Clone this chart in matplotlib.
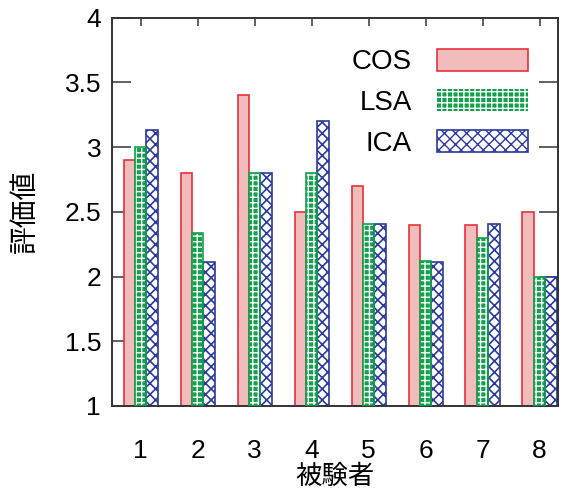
import numpy as np
import matplotlib
matplotlib.use("Agg")
import matplotlib.pyplot as plt
from matplotlib.patches import Patch

plt.rcParams['font.family'] = ['Liberation Sans', 'Noto Sans CJK JP', 'DejaVu Sans']

subjects = [1, 2, 3, 4, 5, 6, 7, 8]
cos_vals = [2.90, 2.80, 3.40, 2.50, 2.70, 2.40, 2.40, 2.50]
lsa_vals = [3.00, 2.34, 2.80, 2.80, 2.41, 2.12, 2.30, 2.00]
ica_vals = [3.13, 2.11, 2.80, 3.20, 2.41, 2.11, 2.41, 2.00]
yticks = [1, 1.5, 2, 2.5, 3, 3.5, 4]

fig = plt.figure(figsize=(5.64, 4.95), dpi=100)
ax = fig.add_axes([0.199, 0.180, 0.790, 0.784])

x = np.array(subjects, dtype=float)
w = 0.2
base = 1.0

ax.bar(x - w, np.array(cos_vals) - base, w, bottom=base, color='#f2bcbc',
       edgecolor='#e8303a', linewidth=1.2, zorder=2)

# LSA: green with white checker dots
with plt.rc_context({'hatch.linewidth': 1.0}):
    ax.bar(x, np.array(lsa_vals) - base, w, bottom=base, color='#12a04c',
           edgecolor='white', linewidth=0, hatch='+++', zorder=2)
    h_lsa = Patch(facecolor='#12a04c', edgecolor='white', hatch='+++', linewidth=0)
ax.bar(x, np.array(lsa_vals) - base, w, bottom=base, fill=False,
       edgecolor='#12a04c', linewidth=1.2, zorder=3)

with plt.rc_context({'hatch.linewidth': 1.2}):
    ax.bar(x + w, np.array(ica_vals) - base, w, bottom=base, color='white',
           edgecolor='#2b3a9c', linewidth=1.2, hatch='xxx', zorder=2)
    h_ica = Patch(facecolor='white', edgecolor='#2b3a9c', hatch='xxx', linewidth=1.2)

h_cos = Patch(facecolor='#f2bcbc', edgecolor='#e8303a', linewidth=1.2)
leg = ax.legend([h_cos, h_lsa, h_ica], ['COS', 'LSA', 'ICA'], loc='upper right',
                bbox_to_anchor=(0.99, 0.985), frameon=False, markerfirst=False,
                fontsize=20, handlelength=3.3, handleheight=0.85,
                labelspacing=0.5, handletextpad=0.9)

ax.set_xlim(0.5, 8.32)
ax.set_ylim(1, 4)
ax.set_xticks(x)
ax.set_xticklabels([str(s) for s in subjects])
ax.set_yticks(yticks)
ax.set_yticklabels([f'{t:g}' for t in yticks])
ax.tick_params(axis='both', labelsize=19, direction='in', color='#444444')
ax.tick_params(axis='y', length=14, width=1.2, right=True, pad=8)
ax.tick_params(axis='x', length=6, width=1.2, top=True, pad=24)
for s in ax.spines.values():
    s.set_color('#333333')
    s.set_linewidth(1.4)

ax.set_xlabel('被験者', fontsize=19, family=['Noto Sans CJK JP'], labelpad=0)
ax.set_ylabel('評価値', fontsize=20, family=['Noto Sans CJK JP'], labelpad=18)

fig.savefig('out.png', dpi=100)
